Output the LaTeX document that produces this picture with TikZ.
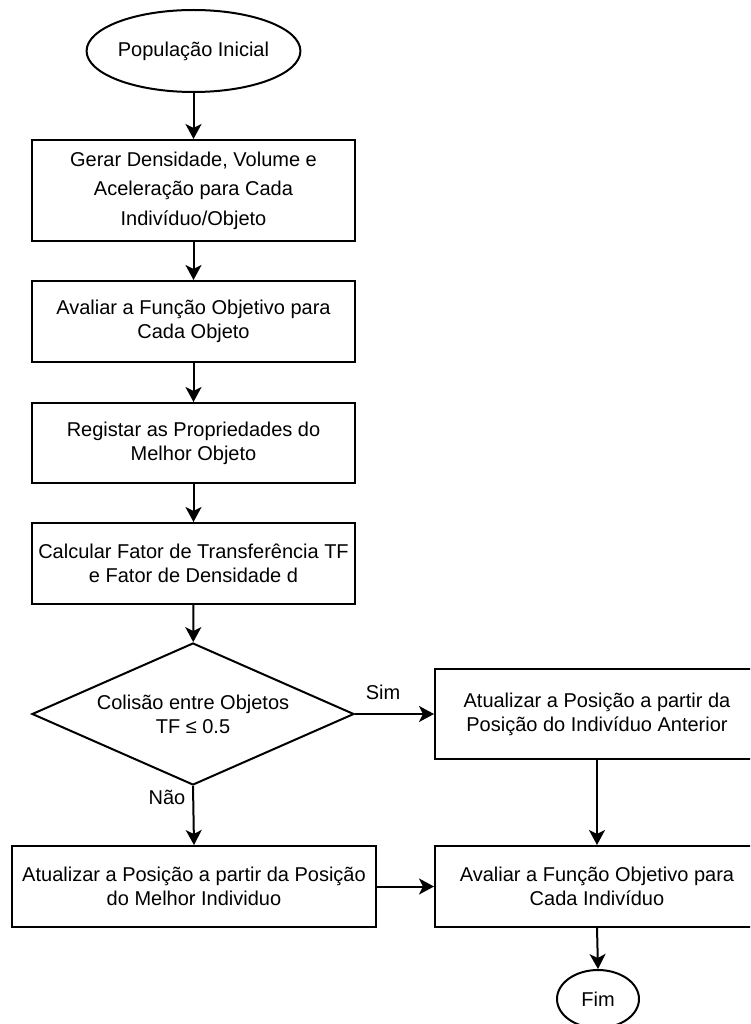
\documentclass[tikz,border=0pt]{standalone}
\usepackage{fontspec}
\setmainfont{Liberation Sans}
\usetikzlibrary{shapes.geometric,arrows.meta}

\tikzset{
  flow/.style={draw=black, line width=2pt, fill=white, inner sep=0pt, align=center,
    font=\fontsize{20}{24}\selectfont},
  procbox/.style={flow, rectangle, minimum width=323pt, minimum height=81pt},
  terminal/.style={flow, ellipse},
  decision/.style={flow, diamond, minimum width=322pt, minimum height=142pt},
  conn/.style={draw=black, line width=2pt,
    -{Stealth[length=15pt, width=16pt, inset=4pt]}},
  tag/.style={font=\fontsize{20}{24}\selectfont, inner sep=0pt}
}

\begin{document}
\begin{tikzpicture}[x=1pt, y=-1pt]
  \clip (0,0) rectangle (750,1024);
  \fill[white] (0,0) rectangle (750,1024);

  % main column
  \node[terminal, minimum width=207pt, minimum height=82pt] (start) at (193.5,51) {População Inicial};
  \node[procbox, minimum height=101pt, font=\fontsize{20}{29.5}\selectfont] (gerar) at (193.5,190.5)
    {Gerar Densidade, Volume e\\Aceleração para Cada\\Indivíduo/Objeto};
  \node[procbox] (aval1) at (193.5,321.5) {Avaliar a Função Objetivo para\\Cada Objeto};
  \node[procbox, minimum height=80pt] (reg) at (193.5,443) {Registar as Propriedades do\\Melhor Objeto};
  \node[procbox] (calc) at (193.5,563.5) {Calcular Fator de Transferência TF\\e Fator de Densidade d};
  \node[decision, label={[align=center, font=\fontsize{20}{24}\selectfont]center:Colisão entre Objetos\\TF ≤ 0.5}] (col) at (193,714) {};

  % branches
  \node[procbox, minimum width=324pt, minimum height=90pt] (ant) at (597,714)
    {Atualizar a Posição a partir da\\Posição do Indivíduo Anterior};
  \node[procbox, minimum width=364pt] (melhor) at (194,886.5)
    {Atualizar a Posição a partir da Posição\\do Melhor Individuo};
  \node[procbox, minimum width=324pt] (aval2) at (597,886.5)
    {Avaliar a Função Objetivo para\\Cada Indivíduo};
  \node[terminal, minimum width=82pt, minimum height=58pt] (fim) at (598,999) {Fim};

  % connectors
  \draw[conn] (start) -- (gerar);
  \draw[conn] (gerar) -- (aval1);
  \draw[conn] (aval1) -- (reg);
  \draw[conn] (reg) -- (calc);
  \draw[conn] (calc) -- (col);
  \draw[conn] (col.east) -- (ant.west);
  \draw[conn] (col.south) -- (melhor.north);
  \draw[conn] (ant.south) -- (aval2.north);
  \draw[conn] (melhor.east) -- (aval2.west);
  \draw[conn] (aval2.south) -- (fim.north);

  % branch labels
  \node[tag] (sim) at (383,692) {Sim};
  \node[tag] (nao) at (167,797) {Não};
\end{tikzpicture}
\end{document}
